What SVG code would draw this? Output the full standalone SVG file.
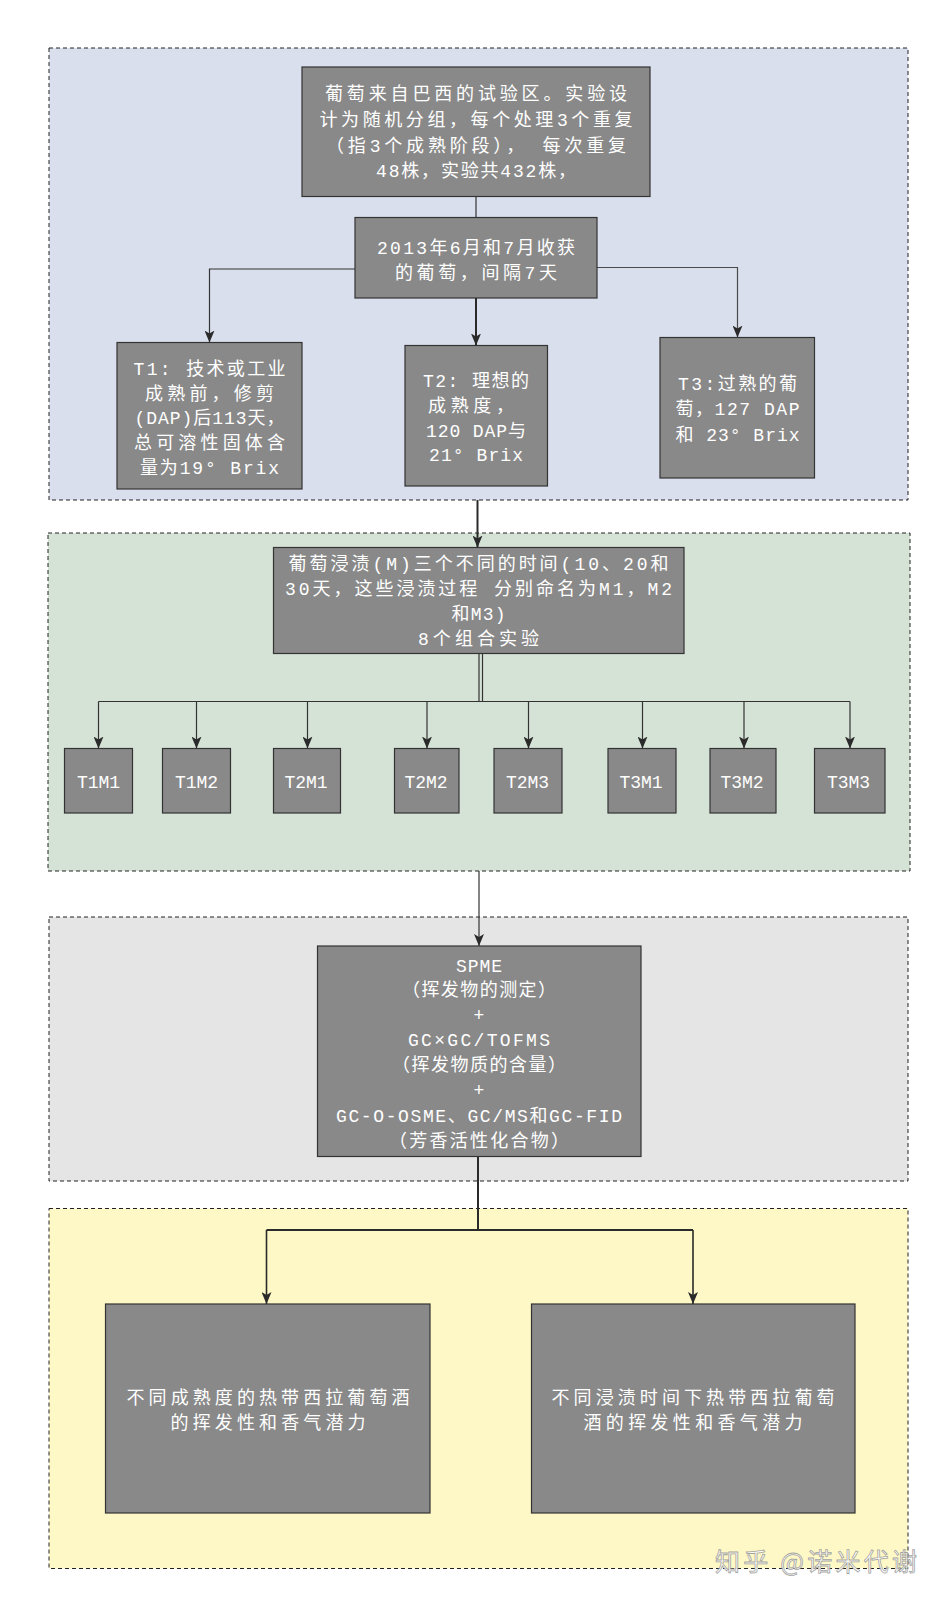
<svg xmlns="http://www.w3.org/2000/svg" width="941" height="1600" viewBox="0 0 941 1600">
<defs>
<style>
.cont{stroke:#222;stroke-width:1;stroke-dasharray:4,3}
.node{fill:#898989;stroke:#333;stroke-width:1.2}
.t{font-family:"Liberation Mono","Noto Sans CJK SC",monospace;font-size:18px;fill:#ffffff;text-anchor:middle}
.c1{fill:none;stroke:#333;stroke-width:1.2}
.c2{fill:none;stroke:#2a2a2a;stroke-width:2}
.wm{font-family:"Noto Sans CJK SC","Noto Sans",sans-serif;font-size:25px;fill:#ffffff;stroke:#9a9a9a;stroke-width:0.8;opacity:0.9}
</style>
<marker id="arr" viewBox="0 0 12 10" refX="12" refY="5" markerWidth="12" markerHeight="10" markerUnits="userSpaceOnUse" orient="auto">
<path d="M0,0 L12,5 L0,10 L3,5 z" fill="#2a2a2a"/>
</marker>
</defs>
<rect width="941" height="1600" fill="#ffffff"/>

<g id="containers">
<rect class="cont" x="49" y="48" width="859" height="452" fill="#DADFEE"/>
<rect class="cont" x="48" y="533" width="862" height="338" fill="#D5E2D6"/>
<rect class="cont" x="49" y="917" width="859" height="264" fill="#E5E5E5"/>
<rect class="cont" x="49" y="1208.5" width="859" height="360" fill="#FEF8C6"/>
</g>

<g id="connectors">
<line class="c1" x1="476" y1="196.5" x2="476" y2="217.5"/>
<polyline class="c1" points="355,269 209.5,269 209.5,342.5" marker-end="url(#arr)"/>
<line class="c2" x1="476" y1="298" x2="476" y2="345.5" marker-end="url(#arr)"/>
<polyline class="c1" points="597,267.5 737.5,267.5 737.5,337.5" style="stroke:#4a4a4a" marker-end="url(#arr)"/>
<line class="c2" x1="477.5" y1="500" x2="477.5" y2="547.5" marker-end="url(#arr)"/>
<line class="c1" x1="479" y1="653.5" x2="479" y2="701.5"/>
<line class="c1" x1="482.5" y1="653.5" x2="482.5" y2="701.5"/>
<line class="c1" x1="98.5" y1="701.5" x2="850" y2="701.5"/>
<line class="c1" x1="98.5" y1="701.5" x2="98.5" y2="748.5" marker-end="url(#arr)"/>
<line class="c1" x1="196.5" y1="701.5" x2="196.5" y2="748.5" marker-end="url(#arr)"/>
<line class="c1" x1="307.5" y1="701.5" x2="307.5" y2="748.5" marker-end="url(#arr)"/>
<line class="c1" x1="427" y1="701.5" x2="427" y2="748.5" marker-end="url(#arr)"/>
<line class="c1" x1="528.5" y1="701.5" x2="528.5" y2="748.5" marker-end="url(#arr)"/>
<line class="c1" x1="642.5" y1="701.5" x2="642.5" y2="748.5" marker-end="url(#arr)"/>
<line class="c1" x1="744" y1="701.5" x2="744" y2="748.5" marker-end="url(#arr)"/>
<line class="c1" x1="850" y1="701.5" x2="850" y2="748.5" marker-end="url(#arr)"/>
<line class="c1" x1="479" y1="871" x2="479" y2="946" marker-end="url(#arr)"/>
<line class="c2" x1="478" y1="1156.5" x2="478" y2="1230"/>
<line class="c2" x1="266.5" y1="1230" x2="693" y2="1230"/>
<line class="c2" x1="266.5" y1="1230" x2="266.5" y2="1304" style="stroke-width:1.6" marker-end="url(#arr)"/>
<line class="c2" x1="693" y1="1230" x2="693" y2="1304" style="stroke-width:1.6" marker-end="url(#arr)"/>
</g>

<g id="n-source">
<rect class="node" x="302" y="67" width="348" height="129.5"/>
<text class="t" x="476" y="100" textLength="302" lengthAdjust="spacing">葡萄来自巴西的试验区。实验设</text>
<text class="t" x="476" y="126" textLength="313" lengthAdjust="spacing">计为随机分组，每个处理3个重复</text>
<text class="t" x="476" y="151.5" textLength="300" lengthAdjust="spacing">（指3个成熟阶段）， 每次重复</text>
<text class="t" x="476" y="177" textLength="200" lengthAdjust="spacing">48株，实验共432株，</text>
</g>

<g id="n-harvest">
<rect class="node" x="355" y="217.5" width="242" height="80.5"/>
<text class="t" x="476" y="254" textLength="198" lengthAdjust="spacing">2013年6月和7月收获</text>
<text class="t" x="476" y="279" textLength="162" lengthAdjust="spacing">的葡萄，间隔7天</text>
</g>

<g id="n-t1">
<rect class="node" x="117" y="342.5" width="185" height="146.5"/>
<text class="t" x="209.5" y="375" textLength="152" lengthAdjust="spacing">T1: 技术或工业</text>
<text class="t" x="209.5" y="400" textLength="129" lengthAdjust="spacing">成熟前，修剪</text>
<text class="t" x="209.5" y="424" textLength="150" lengthAdjust="spacing">(DAP)后113天，</text>
<text class="t" x="209.5" y="449" textLength="151" lengthAdjust="spacing">总可溶性固体含</text>
<text class="t" x="209.5" y="473.5" textLength="139" lengthAdjust="spacing">量为19° Brix</text>
</g>

<g id="n-t2">
<rect class="node" x="405" y="345.5" width="142.5" height="140.5"/>
<text class="t" x="476" y="386.5" textLength="106" lengthAdjust="spacing">T2: 理想的</text>
<text class="t" x="471" y="411.5" textLength="86" lengthAdjust="spacing">成熟度，</text>
<text class="t" x="476" y="436.5" textLength="100" lengthAdjust="spacing">120 DAP与</text>
<text class="t" x="476" y="461" textLength="94" lengthAdjust="spacing">21° Brix</text>
</g>

<g id="n-t3">
<rect class="node" x="660" y="337.5" width="154.5" height="140.5"/>
<text class="t" x="737.5" y="390" textLength="119" lengthAdjust="spacing">T3:过熟的葡</text>
<text class="t" x="737.5" y="415" textLength="124" lengthAdjust="spacing">萄，127 DAP</text>
<text class="t" x="737.5" y="440.5" textLength="124" lengthAdjust="spacing">和 23° Brix</text>
</g>

<g id="n-maceration">
<rect class="node" x="273.5" y="547.5" width="410.5" height="106"/>
<text class="t" x="478.5" y="570" textLength="380" lengthAdjust="spacing">葡萄浸渍(M)三个不同的时间(10、20和</text>
<text class="t" x="478.5" y="595" textLength="387" lengthAdjust="spacing">30天，这些浸渍过程 分别命名为M1，M2</text>
<text class="t" x="478.5" y="620" textLength="54" lengthAdjust="spacing">和M3)</text>
<text class="t" x="478.5" y="645" textLength="121" lengthAdjust="spacing">8个组合实验</text>
</g>

<g id="n-t1m1"><rect class="node" x="64.5" y="748.5" width="68" height="64.5"/><text class="t" x="98.5" y="788">T1M1</text></g>
<g id="n-t1m2"><rect class="node" x="162.5" y="748.5" width="68" height="64.5"/><text class="t" x="196.5" y="788">T1M2</text></g>
<g id="n-t2m1"><rect class="node" x="273.5" y="748.5" width="67" height="64.5"/><text class="t" x="306" y="788">T2M1</text></g>
<g id="n-t2m2"><rect class="node" x="394.5" y="748.5" width="64.5" height="64.5"/><text class="t" x="426" y="788">T2M2</text></g>
<g id="n-t2m3"><rect class="node" x="494" y="748.5" width="68" height="64.5"/><text class="t" x="527.5" y="788">T2M3</text></g>
<g id="n-t3m1"><rect class="node" x="608" y="748.5" width="68" height="64.5"/><text class="t" x="641" y="788">T3M1</text></g>
<g id="n-t3m2"><rect class="node" x="710" y="748.5" width="66" height="64.5"/><text class="t" x="742" y="788">T3M2</text></g>
<g id="n-t3m3"><rect class="node" x="814.5" y="748.5" width="70.5" height="64.5"/><text class="t" x="848.5" y="788">T3M3</text></g>

<g id="n-analysis">
<rect class="node" x="317.5" y="946" width="323.5" height="210.5"/>
<text class="t" x="479" y="971.5" textLength="46" lengthAdjust="spacing">SPME</text>
<text class="t" x="479" y="996" textLength="154" lengthAdjust="spacing">（挥发物的测定）</text>
<text class="t" x="479" y="1021">+</text>
<text class="t" x="479" y="1046" textLength="142" lengthAdjust="spacing">GC×GC/TOFMS</text>
<text class="t" x="479" y="1071" textLength="174" lengthAdjust="spacing">（挥发物质的含量）</text>
<text class="t" x="479" y="1096">+</text>
<text class="t" x="479" y="1121.5" textLength="286" lengthAdjust="spacing">GC-O-OSME、GC/MS和GC-FID</text>
<text class="t" x="479" y="1146.5" textLength="180" lengthAdjust="spacing">（芳香活性化合物）</text>
</g>

<g id="n-result1">
<rect class="node" x="105.5" y="1304" width="324.5" height="209"/>
<text class="t" x="268" y="1403.5" textLength="283" lengthAdjust="spacing">不同成熟度的热带西拉葡萄酒</text>
<text class="t" x="268" y="1428.5" textLength="195" lengthAdjust="spacing">的挥发性和香气潜力</text>
</g>

<g id="n-result2">
<rect class="node" x="531.5" y="1304" width="323.5" height="209"/>
<text class="t" x="693" y="1403.5" textLength="283" lengthAdjust="spacing">不同浸渍时间下热带西拉葡萄</text>
<text class="t" x="693" y="1428.5" textLength="219" lengthAdjust="spacing">酒的挥发性和香气潜力</text>
</g>

<text class="wm" x="715" y="1571" textLength="202" lengthAdjust="spacing">知乎 @诺米代谢</text>
</svg>
